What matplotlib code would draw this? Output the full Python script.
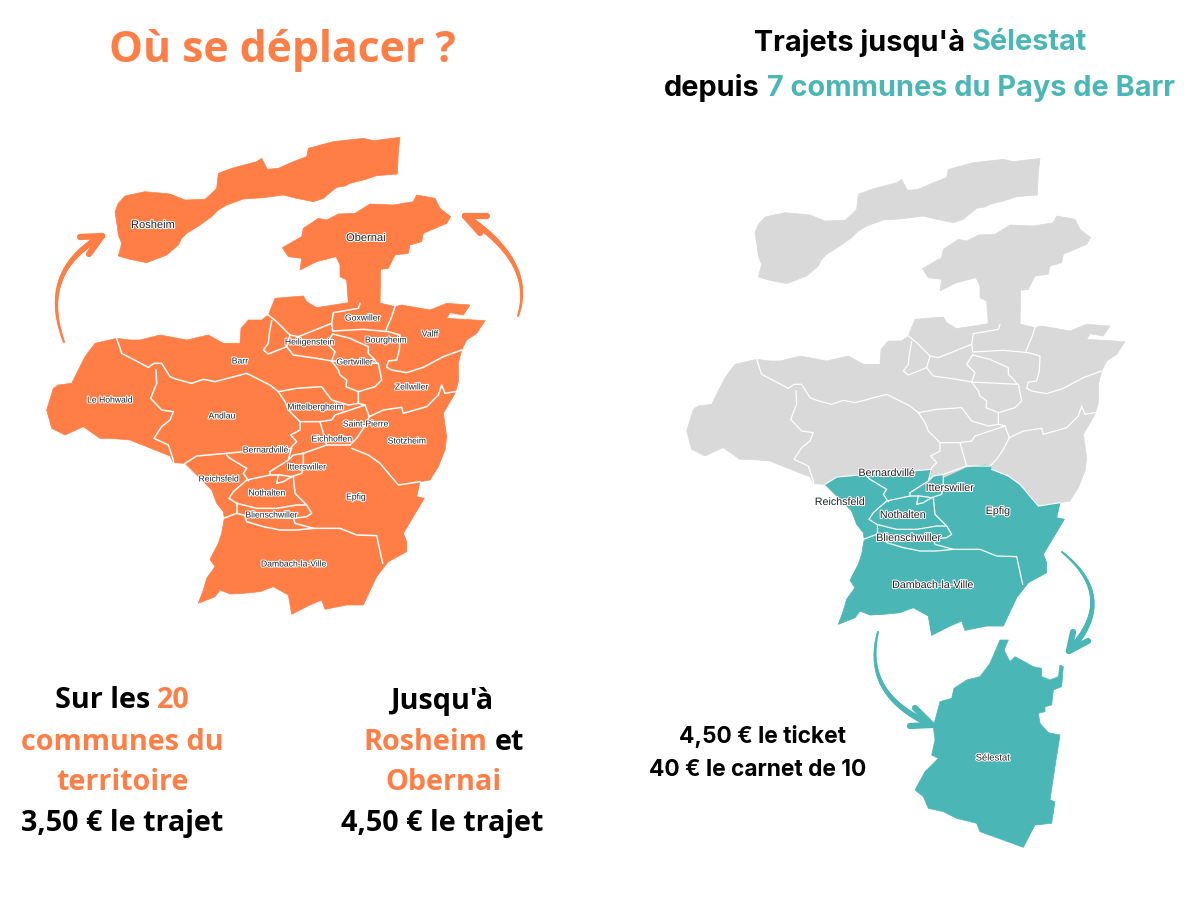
#!/usr/bin/env python3
"""Carte des trajets du Pays de Barr : tarifs vers Rosheim, Obernai et Selestat."""

import numpy as np
import matplotlib
matplotlib.use("Agg")
import matplotlib.pyplot as plt
from matplotlib.collections import LineCollection
from matplotlib.patches import Polygon
from matplotlib.transforms import Affine2D
import matplotlib.patheffects as pe

ORANGE = "#FF7E46"
TEAL = "#4AB7B6"
GREY = "#D9D9D9"
LABEL = "#1F2224"
RIGHT_DX, RIGHT_DY = 640, 21

# contours, in map units (3 per pixel, from the top left corner of the left map)
rosheim = [(1110, 22), (1105, 65), (1102, 132), (1040, 137), (1000, 150), (960, 160), (945, 168), (920, 172), (900, 188), (880, 205),
           (850, 215), (825, 210), (800, 205), (760, 195), (700, 203), (640, 207), (590, 225), (565, 240), (545, 260), (510, 285),
           (470, 310), (455, 325), (445, 345), (410, 375), (350, 398), (300, 388), (265, 378), (275, 340), (265, 315), (262, 290),
           (255, 245), (265, 220), (285, 198), (345, 185), (420, 192), (465, 210), (525, 208), (545, 190), (560, 175), (565, 130),
           (605, 115), (680, 95), (695, 85), (712, 118), (745, 115), (790, 95), (830, 80), (835, 55),
           (910, 35), (1000, 25), (1030, 32)]
obernai = [(1160, 195), (1215, 205), (1230, 235), (1262, 260), (1250, 280), (1180, 310), (1175, 335), (1140, 345),
           (1135, 370), (1095, 375), (1075, 415), (1052, 418), (1050, 520), (955, 520), (950, 450), (930, 440),
           (930, 405), (918, 380), (860, 395), (810, 420), (815, 385), (775, 380), (757, 353), (815, 320),
           (820, 295), (865, 265), (890, 270), (925, 252), (975, 250), (1020, 222), (1090, 225), (1150, 215)]
main_north = [(735, 505), (820, 498), (830, 515), (860, 533), (955, 518), (990, 520), (1045, 518), (1095, 530),
              (1115, 525), (1200, 540), (1250, 520), (1320, 525), (1300, 555), (1260, 548), (1250, 565),
              (1365, 572), (1340, 610), (1310, 630), (1295, 660), (1285, 700), (1285, 755), (1275, 790),
              (1240, 850), (1250, 920), (1245, 960), (1225, 1010), (1200, 1050)]
main_south = [(1170, 1055), (1160, 1100), (1183, 1105), (1150, 1160), (1120, 1210), (1130, 1235), (1130, 1265),
              (1075, 1295), (1040, 1340), (1000, 1425), (950, 1425), (885, 1438), (875, 1410), (840, 1425),
              (785, 1453), (775, 1395), (730, 1370), (690, 1385), (640, 1390), (600, 1392), (570, 1380),
              (555, 1400), (505, 1420), (520, 1380), (530, 1345), (555, 1310), (540, 1288), (565, 1240),
              (575, 1210), (583, 1165), (580, 1145), (560, 1120), (545, 1080), (520, 1055), (490, 1025), (465, 1000)]
main_west = [(430, 998), (420, 978), (350, 950), (300, 930), (240, 925), (210, 925), (160, 890), (105, 915),
             (65, 895), (50, 840), (70, 775), (85, 765), (125, 760), (130, 750), (165, 680), (195, 640),
             (260, 625), (300, 630), (330, 630), (390, 615), (470, 630), (535, 615), (580, 640), (630, 640),
             (633, 595), (655, 570), (695, 570), (715, 555)]
south_top = [(500, 978), (590, 970), (640, 965), (720, 960), (785, 955), (775, 990), (790, 975), (820, 970),
             (820, 982), (890, 950), (945, 942), (960, 945), (965, 955), (1015, 975), (1050, 1000), (1105, 1065)]

# limites communales
borders = [
    [(990, 520), (985, 535), (910, 548), (905, 580), (908, 603), (1000, 598), (1075, 605), (1110, 615),
     (1108, 660), (1100, 690), (1075, 693), (1070, 712), (1085, 720), (1130, 728), (1180, 712), (1240, 680),
     (1295, 660)],
    [(1095, 530), (1085, 560), (1068, 600)],
    [(715, 555), (740, 575), (780, 615), (770, 650), (790, 675), (860, 685), (905, 693), (925, 720), (930, 735),
     (950, 750), (948, 770), (985, 785), (1035, 770), (1055, 750), (1045, 700), (905, 693)],
    [(725, 572), (718, 610), (715, 640), (700, 660), (715, 672), (745, 660), (770, 650)],
    [(780, 615), (805, 620), (880, 590), (905, 580)],
    [(908, 612), (960, 625), (1015, 650), (1015, 670), (1035, 690), (1040, 700)],
    [(908, 612), (890, 640), (915, 665), (905, 693)],
    [(260, 625), (275, 670), (355, 712), (372, 700), (395, 700), (420, 740), (440, 748), (485, 760), (520, 748),
     (555, 755), (650, 730), (700, 755), (720, 765), (745, 785), (800, 775), (875, 770), (905, 810), (955, 825),
     (985, 820), (985, 785)],
    [(378, 720), (380, 760), (362, 805), (395, 840), (430, 845), (420, 870), (395, 890), (372, 925), (415, 945),
     (430, 990), (430, 998)],
    [(745, 785), (765, 815), (775, 840), (810, 875), (870, 875), (905, 870), (915, 855), (1005, 825), (1018, 860)],
    [(985, 820), (1005, 825)],
    [(810, 875), (810, 900), (782, 915), (800, 935), (785, 950), (775, 990), (720, 1025)],
    [(465, 1000), (500, 978), (590, 970), (640, 965), (720, 960), (785, 955)],
    [(590, 975), (600, 985), (650, 1015), (640, 1030), (655, 1052)],
    [(870, 875), (880, 910), (890, 945), (820, 970), (790, 975), (775, 990)],
    [(1018, 860), (1060, 840), (1115, 832), (1120, 850), (1190, 830), (1225, 795), (1235, 765), (1245, 790),
     (1275, 785)],
    [(1018, 860), (1000, 895), (980, 925), (960, 945), (890, 945)],
    [(965, 955), (1015, 975), (1050, 1000), (1105, 1065), (1170, 1055)],
    [(820, 970), (820, 1010), (815, 1030), (785, 1040), (750, 1035), (720, 1035), (720, 1025)],
    [(790, 1040), (795, 1090), (830, 1125)],
    [(720, 1035), (650, 1050), (610, 1085), (597, 1105), (620, 1120), (680, 1135), (740, 1135), (800, 1125),
     (830, 1125), (845, 1150), (830, 1160), (790, 1165), (660, 1160), (620, 1150), (580, 1165)],
    [(620, 1120), (620, 1150)],
    [(745, 1035), (740, 1060), (760, 1055), (785, 1040)],
    [(645, 1160), (650, 1175), (700, 1190), (750, 1200), (800, 1200), (850, 1195), (930, 1195), (980, 1215),
     (1040, 1217), (1058, 1300)],
    [(790, 1165), (795, 1180), (850, 1195)],
]

# Selestat, in the 3x crop units of the lower right part
selestat = [(960, 570), (985, 570), (972, 600), (990, 635), (1005, 620), (1060, 650), (1085, 655), (1085, 680),
            (1110, 690), (1135, 680), (1140, 645), (1150, 650), (1145, 710), (1120, 720), (1115, 765), (1095, 770),
            (1095, 785), (1075, 790), (1080, 820), (1105, 848), (1140, 855), (1125, 950), (1110, 1050), (1125, 1055),
            (1115, 1120), (1065, 1125), (1030, 1192), (900, 1145), (890, 1120), (830, 1105), (790, 1085), (745, 1075),
            (730, 1040), (705, 1020), (735, 965), (775, 925), (755, 915), (765, 870), (760, 830), (780, 755),
            (815, 745), (822, 715), (860, 690), (900, 680), (930, 640)]

left_names = ["Goxwiller", "Valff", "Heiligenstein", "Bourgheim", "Gertwiller", "Barr", "Zellwiller", "Le Hohwald",
              "Mittelbergheim", "Andlau", "Saint-Pierre", "Eichhoffen", "Stotzheim", "Bernardvillé", "Itterswiller",
              "Reichsfeld", "Nothalten", "Epfig", "Blienschwiller", "Dambach-la-Ville"]
left_x = [363, 430, 310, 386, 355, 240, 412, 110, 316, 222, 366, 332, 407, 266, 307, 219, 267, 356, 272, 294]
left_y = [318, 334, 342, 340, 362, 361, 387, 400, 407, 416, 424, 439, 441, 450, 467, 479, 493, 497, 515, 564]

right_names = ["Bernardvillé", "Itterswiller", "Reichsfeld", "Nothalten", "Epfig", "Blienschwiller",
               "Dambach-la-Ville", "Sélestat"]
right_x = [887, 950, 840, 903, 998, 909, 933, 993]
right_y = [473, 488, 502, 515, 511, 538, 585, 758]

fig = plt.figure(figsize=(12, 9), dpi=100, facecolor="white")
ax = fig.add_axes([0, 0, 1, 1])
ax.set_xlim(0, 1200)
ax.set_ylim(900, 0)
ax.axis("off")

left_map = Affine2D().scale(1 / 3).translate(30, 130) + ax.transData
right_map = Affine2D().scale(1 / 3).translate(30 + RIGHT_DX, 130 + RIGHT_DY) + ax.transData
crop_map = Affine2D().scale(1 / 3).translate(680, 450) + ax.transData

main_outline = main_north + main_south + main_west


def draw_borders(trans, lw=1.1):
    for line in borders:
        xs, ys = zip(*line)
        ax.plot(xs, ys, color="white", lw=lw, transform=trans, solid_joinstyle="round", zorder=3)


# carte de gauche
for shape in (rosheim, obernai, main_outline):
    ax.add_patch(Polygon(shape, closed=True, fc=ORANGE, ec=ORANGE, lw=0.5, transform=left_map, zorder=2))
draw_borders(left_map)

# carte de droite
for shape in (rosheim, obernai, main_outline):
    ax.add_patch(Polygon(shape, closed=True, fc=GREY, ec=GREY, lw=0.5, transform=right_map, zorder=2))
ax.add_patch(Polygon(main_south + south_top, closed=True, fc=TEAL, ec=TEAL, lw=0.5, transform=right_map, zorder=2))
ax.add_patch(Polygon(selestat, closed=True, fc=TEAL, ec=TEAL, lw=0.5, transform=crop_map, zorder=2))
draw_borders(right_map, lw=0.9)

halo = [pe.withStroke(linewidth=1.5, foreground="white")]


def map_label(x, y, s, size):
    ax.text(x, y, s, fontsize=size, family="Liberation Sans", color=LABEL, ha="center", va="center",
            path_effects=halo, zorder=5)


for name, x, y in zip(left_names, left_x, left_y):
    map_label(x, y, name, 6.2)
map_label(153, 225, "Rosheim", 8)
map_label(366, 238, "Obernai", 8)
for name, x, y in zip(right_names, right_x, right_y):
    map_label(x, y, name, 7.7 if name != "Sélestat" else 6.8)


def curved_arrow(p0, p1, p2, barb1, barb2, color, w0=1.5, w1=4.5):
    t = np.linspace(0, 1, 60)[:, None]
    pts = (1 - t) ** 2 * np.array(p0) + 2 * t * (1 - t) * np.array(p1) + t ** 2 * np.array(p2)
    segs = np.stack([pts[:-1], pts[1:]], axis=1)
    ax.add_collection(LineCollection(segs, colors=color, linewidths=np.linspace(w0, w1, 59), capstyle="round", zorder=4))
    for barb in (barb1, barb2):
        ax.plot([barb[0], p2[0]], [barb[1], p2[1]], color=color, lw=w1, solid_capstyle="round", zorder=4)


curved_arrow((64, 342), (38, 272), (102, 236), (80, 237), (89, 254), ORANGE)
curved_arrow((518, 316), (536, 262), (465, 216), (487, 216), (480, 233), ORANGE)
curved_arrow((878, 632), (862, 695), (932, 725), (915, 708), (910, 726), TEAL)
curved_arrow((1062, 552), (1119, 598), (1069, 651), (1073, 632), (1088, 641), TEAL)


def title(x, y, s, color, size, family="Open Sans"):
    ax.text(x, y, s, fontsize=size, family=family, fontweight="bold", color=color, ha="left", va="center")


# titres
title(109, 50, "Où se déplacer ?", ORANGE, 30.7)
title(754, 43, "Trajets jusqu'à", "black", 20.8, "Inter")
title(972, 43, "Sélestat", TEAL, 20.8, "Inter")
title(664, 88, "depuis", "black", 20.8, "Inter")
title(767, 88, "7 communes du Pays de Barr", TEAL, 20.8, "Inter")

# textes du bas
title(55, 701, "Sur les", "black", 20.7)
title(157, 701, "20", ORANGE, 20.7)
title(21, 742, "communes du", ORANGE, 20.7)
title(56, 783, "territoire", ORANGE, 20.7)
title(21, 823, "3,50 € le trajet", "black", 20.7)
title(390, 701, "Jusqu'à", "black", 20.7)
title(363, 742, "Rosheim", ORANGE, 20.7)
title(495, 742, "et", "black", 20.7)
title(385, 783, "Obernai", ORANGE, 20.7)
title(341, 823, "4,50 € le trajet", "black", 20.7)
title(679, 737, "4,50 € le ticket", "black", 16.4, "Inter")
title(649, 770, "40 € le carnet de 10", "black", 16.4, "Inter")

fig.savefig("out.png", dpi=100, facecolor="white")
